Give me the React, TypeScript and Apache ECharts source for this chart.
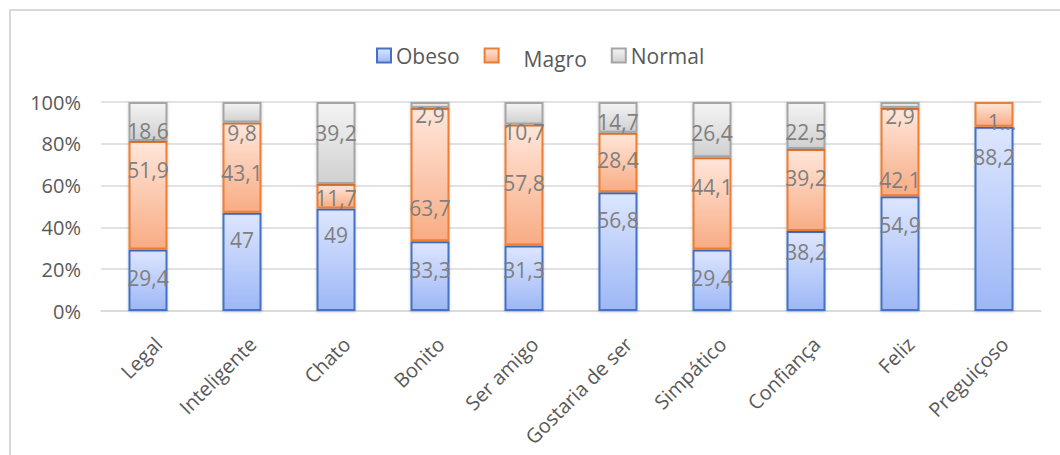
import React, { useEffect, useRef } from "react";
import * as echarts from "echarts";

const categories = ["Legal", "Inteligente", "Chato", "Bonito", "Ser amigo", "Gostaria de ser", "Simpático", "Confiança", "Feliz", "Preguiçoso"];
const obeso = [29.4, 47, 49, 33.3, 31.3, 56.8, 29.4, 38.2, 54.9, 88.2];
const magro = [51.9, 43.1, 11.7, 63.7, 57.8, 28.4, 44.1, 39.2, 42.1, 11.8];
const normal = [18.6, 9.8, 39.2, 2.9, 10.7, 14.7, 26.4, 22.5, 2.9, 0];
const yTicks = [0, 20, 40, 60, 80, 100];

// label nudges (style only, pixels)
const obesoLabelDy = [-2, -22, -25, -6, -8, -32, -2, -19, -29, -62];
const magroLabelDy = [-25, 5, 2, 33, -2, -2, -16, -12, 28, 8];
const normalLabelDy = [10, 21, -10, 10, 19, 5, 3, 6, 11, 0];

const FONT = "Open Sans";

function fmt(v: number) {
  return v === 0 ? "" : String(v).replace(".", ",");
}

export default function App() {
  const ref = useRef<HTMLDivElement>(null);
  useEffect(() => {
    if (!ref.current) return;
    const chart = echarts.init(ref.current, null, { renderer: "svg" });
    const totals = categories.map((_, i) => obeso[i] + magro[i] + normal[i]);

    const grad = (top: string, bottom: string) =>
      new echarts.graphic.LinearGradient(0, 0, 0, 1, [
        { offset: 0, color: top },
        { offset: 1, color: bottom },
      ]);

    const mk = (name: string, vals: number[], dys: number[], top: string, bottom: string, border: string) => ({
      name,
      type: "bar",
      stack: "total",
      barWidth: 39,
      itemStyle: {
        color: grad(top, bottom),
        borderColor: border,
        borderWidth: 2,
        shadowBlur: 3,
        shadowColor: "rgba(0,0,0,0.2)",
        shadowOffsetY: 1,
      },
      label: {
        show: true,
        position: "inside",
        color: "#7f7f7f",
        fontFamily: FONT,
        fontSize: 21,
        formatter: (p: any) => fmt(vals[p.dataIndex]),
      },
      data: vals.map((v, i) => {
        const item: any = { value: (v / totals[i]) * 100 };
        const lbl: any = { offset: [0, dys[i]] };
        if (name === "Magro" && normal[i] === 0 && v < 15) {
          lbl.offset = [8, dys[i]];
          lbl.width = 34;
          lbl.overflow = "truncate";
        }
        item.label = lbl;
        return item;
      }),
    });

    chart.setOption({
      animation: false,
      backgroundColor: "#ffffff",
      graphic: [
        {
          type: "rect",
          shape: { x: 10, y: 10, width: 1200, height: 600 },
          style: { fill: "none", stroke: "#d9d9d9", lineWidth: 2 },
          silent: true,
        },
      ],
      legend: {
        left: 371,
        top: 40,
        itemWidth: 14,
        itemHeight: 14,
        itemGap: 24,
        icon: "rect",
        textStyle: {
          color: "#595959",
          fontFamily: FONT,
          fontSize: 21,
          rich: {
            m: { color: "#595959", fontFamily: FONT, fontSize: 21, padding: [6, 0, 0, 20] },
          },
        },
        formatter: (name: string) => (name === "Magro" ? `{m|${name}}` : name),
        data: ["Obeso", "Magro", "Normal"],
      },
      grid: {
        left: 101,
        right: 19,
        top: 102,
        bottom: 144,
        containLabel: false,
        outerBoundsMode: "none",
      },
      xAxis: {
        type: "category",
        data: categories,
        axisLine: { lineStyle: { color: "#d9d9d9", width: 1.5 } },
        axisTick: { show: false },
        axisLabel: {
          interval: 0,
          rotate: 45,
          color: "#595959",
          fontFamily: FONT,
          fontSize: 20,
          verticalAlign: "top",
          lineHeight: 30,
          margin: 19,
        },
      },
      yAxis: {
        type: "value",
        min: yTicks[0],
        max: yTicks[yTicks.length - 1],
        interval: 20,
        axisLine: { show: false },
        axisTick: { show: false },
        splitLine: { lineStyle: { color: "#d9d9d9", width: 1.5 } },
        axisLabel: {
          color: "#595959",
          fontFamily: FONT,
          fontSize: 20,
          margin: 20,
          formatter: "{value}%",
        },
      },
      series: [
        mk("Obeso", obeso, obesoLabelDy, "#dde6fe", "#9db7f6", "#4472c4"),
        mk("Magro", magro, magroLabelDy, "#ffe6da", "#f8ac84", "#ed7d31"),
        mk("Normal", normal, normalLabelDy, "#f4f4f4", "#d0d0d0", "#a5a5a5"),
      ],
    });
    return () => chart.dispose();
  }, []);

  return (
    <div
      ref={ref}
      style={{ position: "fixed", left: 0, top: 0, width: 1060, height: 455 }}
    />
  );
}
